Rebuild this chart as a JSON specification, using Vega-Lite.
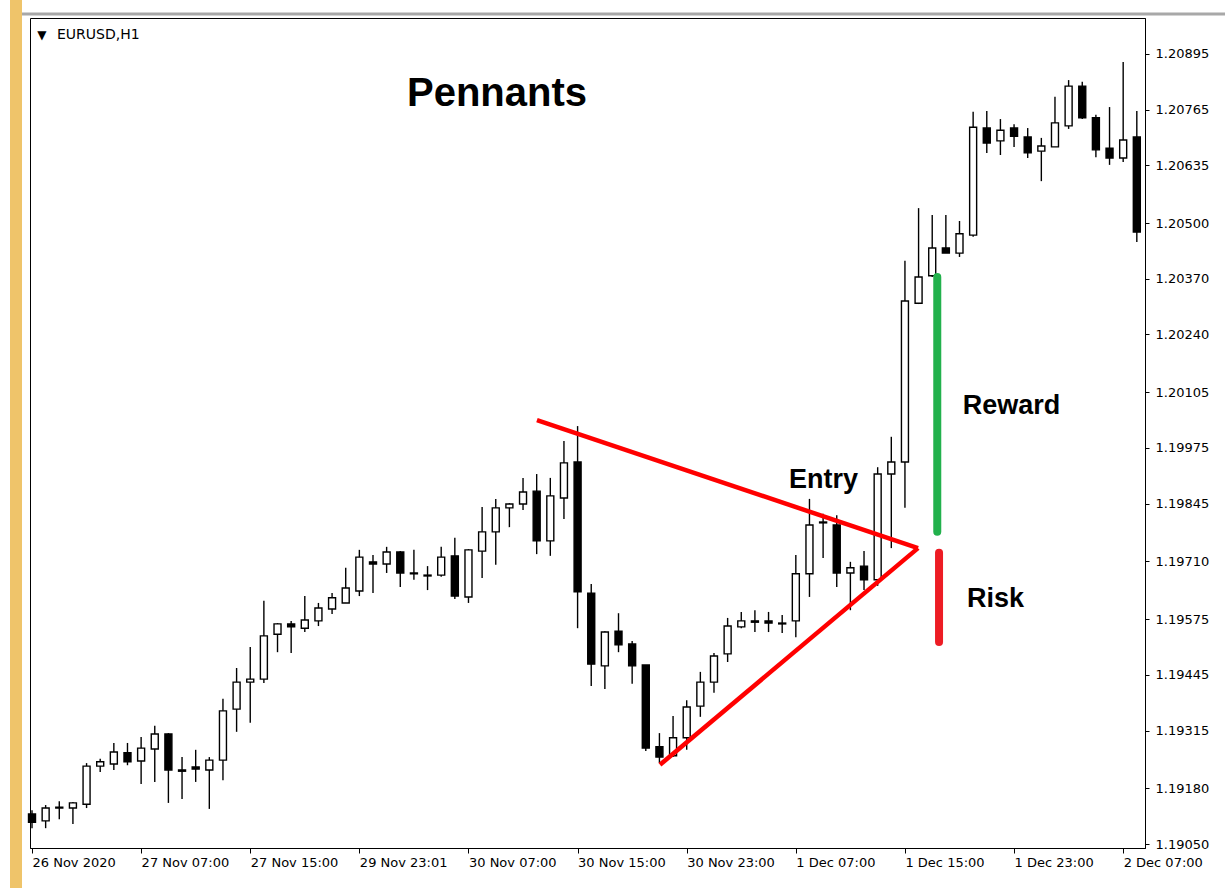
{
  "$schema": "https://vega.github.io/schema/vega-lite/v6.json",
  "width": 1115,
  "height": 830,
  "autosize": {"type": "none"},
  "padding": {"left": 30, "top": 18, "right": 80, "bottom": 40},
  "background": "white",
  "config": {"view": {"stroke": "black", "strokeWidth": 1}, "font": "DejaVu Sans"},
  "datasets": {
    "candles": [
      {"i":0,"o":1.19120,"c":1.19101,"h":1.19129,"l":1.19087},
      {"i":1,"o":1.19104,"c":1.19134,"h":1.19141,"l":1.19087},
      {"i":2,"o":1.19134,"c":1.19136,"h":1.19150,"l":1.19108},
      {"i":3,"o":1.19134,"c":1.19146,"h":1.19148,"l":1.19097},
      {"i":4,"o":1.19143,"c":1.19232,"h":1.19239,"l":1.19134},
      {"i":5,"o":1.19232,"c":1.19242,"h":1.19249,"l":1.19218},
      {"i":6,"o":1.19237,"c":1.19265,"h":1.19286,"l":1.19223},
      {"i":7,"o":1.19263,"c":1.19242,"h":1.19286,"l":1.19234},
      {"i":8,"o":1.19244,"c":1.19274,"h":1.19300,"l":1.19190},
      {"i":9,"o":1.19272,"c":1.19307,"h":1.19326,"l":1.19195},
      {"i":10,"o":1.19307,"c":1.19223,"h":1.19309,"l":1.19146},
      {"i":11,"o":1.19223,"c":1.19220,"h":1.19253,"l":1.19155},
      {"i":12,"o":1.19230,"c":1.19225,"h":1.19270,"l":1.19195},
      {"i":13,"o":1.19223,"c":1.19246,"h":1.19253,"l":1.19132},
      {"i":14,"o":1.19246,"c":1.19361,"h":1.19389,"l":1.19199},
      {"i":15,"o":1.19365,"c":1.19428,"h":1.19461,"l":1.19312},
      {"i":16,"o":1.19428,"c":1.19435,"h":1.19510,"l":1.19333},
      {"i":17,"o":1.19435,"c":1.19536,"h":1.19618,"l":1.19426},
      {"i":18,"o":1.19540,"c":1.19564,"h":1.19566,"l":1.19498},
      {"i":19,"o":1.19564,"c":1.19557,"h":1.19571,"l":1.19496},
      {"i":20,"o":1.19554,"c":1.19573,"h":1.19629,"l":1.19545},
      {"i":21,"o":1.19571,"c":1.19601,"h":1.19613,"l":1.19559},
      {"i":22,"o":1.19599,"c":1.19625,"h":1.19636,"l":1.19587},
      {"i":23,"o":1.19613,"c":1.19648,"h":1.19695,"l":1.19613},
      {"i":24,"o":1.19641,"c":1.19720,"h":1.19737,"l":1.19629},
      {"i":25,"o":1.19709,"c":1.19704,"h":1.19725,"l":1.19636},
      {"i":26,"o":1.19704,"c":1.19732,"h":1.19744,"l":1.19683},
      {"i":27,"o":1.19732,"c":1.19683,"h":1.19734,"l":1.19650},
      {"i":28,"o":1.19683,"c":1.19681,"h":1.19737,"l":1.19667},
      {"i":29,"o":1.19678,"c":1.19676,"h":1.19699,"l":1.19643},
      {"i":30,"o":1.19678,"c":1.19720,"h":1.19744,"l":1.19674},
      {"i":31,"o":1.19723,"c":1.19629,"h":1.19765,"l":1.19622},
      {"i":32,"o":1.19627,"c":1.19737,"h":1.19739,"l":1.19613},
      {"i":33,"o":1.19734,"c":1.19779,"h":1.19837,"l":1.19671},
      {"i":34,"o":1.19779,"c":1.19835,"h":1.19856,"l":1.19702},
      {"i":35,"o":1.19835,"c":1.19844,"h":1.19846,"l":1.19790},
      {"i":36,"o":1.19844,"c":1.19872,"h":1.19905,"l":1.19830},
      {"i":37,"o":1.19874,"c":1.19758,"h":1.19914,"l":1.19727},
      {"i":38,"o":1.19758,"c":1.19863,"h":1.19905,"l":1.19723},
      {"i":39,"o":1.19858,"c":1.19940,"h":1.19991,"l":1.19809},
      {"i":40,"o":1.19942,"c":1.19639,"h":1.20026,"l":1.19554},
      {"i":41,"o":1.19636,"c":1.19470,"h":1.19657,"l":1.19419},
      {"i":42,"o":1.19466,"c":1.19545,"h":1.19547,"l":1.19412},
      {"i":43,"o":1.19547,"c":1.19515,"h":1.19589,"l":1.19498},
      {"i":44,"o":1.19517,"c":1.19466,"h":1.19524,"l":1.19424},
      {"i":45,"o":1.19468,"c":1.19274,"h":1.19468,"l":1.19267},
      {"i":46,"o":1.19277,"c":1.19253,"h":1.19309,"l":1.19239},
      {"i":47,"o":1.19256,"c":1.19298,"h":1.19349,"l":1.19253},
      {"i":48,"o":1.19298,"c":1.19370,"h":1.19386,"l":1.19270},
      {"i":49,"o":1.19372,"c":1.19428,"h":1.19452,"l":1.19347},
      {"i":50,"o":1.19428,"c":1.19489,"h":1.19496,"l":1.19403},
      {"i":51,"o":1.19494,"c":1.19559,"h":1.19578,"l":1.19475},
      {"i":52,"o":1.19557,"c":1.19571,"h":1.19592,"l":1.19554},
      {"i":53,"o":1.19571,"c":1.19568,"h":1.19596,"l":1.19545},
      {"i":54,"o":1.19571,"c":1.19566,"h":1.19592,"l":1.19545},
      {"i":55,"o":1.19566,"c":1.19564,"h":1.19585,"l":1.19543},
      {"i":56,"o":1.19571,"c":1.19681,"h":1.19725,"l":1.19533},
      {"i":57,"o":1.19681,"c":1.19795,"h":1.19856,"l":1.19627},
      {"i":58,"o":1.19800,"c":1.19802,"h":1.19821,"l":1.19718},
      {"i":59,"o":1.19795,"c":1.19683,"h":1.19818,"l":1.19650},
      {"i":60,"o":1.19683,"c":1.19695,"h":1.19709,"l":1.19596},
      {"i":61,"o":1.19699,"c":1.19667,"h":1.19734,"l":1.19643},
      {"i":62,"o":1.19667,"c":1.19914,"h":1.19930,"l":1.19653},
      {"i":63,"o":1.19914,"c":1.19942,"h":1.20001,"l":1.19741},
      {"i":64,"o":1.19942,"c":1.20318,"h":1.20412,"l":1.19835},
      {"i":65,"o":1.20313,"c":1.20374,"h":1.20535,"l":1.20311},
      {"i":66,"o":1.20377,"c":1.20442,"h":1.20519,"l":1.20374},
      {"i":67,"o":1.20442,"c":1.20430,"h":1.20519,"l":1.20430},
      {"i":68,"o":1.20430,"c":1.20475,"h":1.20505,"l":1.20421},
      {"i":69,"o":1.20472,"c":1.20724,"h":1.20760,"l":1.20468},
      {"i":70,"o":1.20722,"c":1.20687,"h":1.20762,"l":1.20664},
      {"i":71,"o":1.20692,"c":1.20717,"h":1.20743,"l":1.20659},
      {"i":72,"o":1.20722,"c":1.20703,"h":1.20731,"l":1.20678},
      {"i":73,"o":1.20701,"c":1.20664,"h":1.20722,"l":1.20652},
      {"i":74,"o":1.20668,"c":1.20680,"h":1.20699,"l":1.20598},
      {"i":75,"o":1.20678,"c":1.20734,"h":1.20795,"l":1.20678},
      {"i":76,"o":1.20727,"c":1.20820,"h":1.20834,"l":1.20720},
      {"i":77,"o":1.20820,"c":1.20746,"h":1.20830,"l":1.20743},
      {"i":78,"o":1.20746,"c":1.20671,"h":1.20753,"l":1.20654},
      {"i":79,"o":1.20675,"c":1.20652,"h":1.20771,"l":1.20636},
      {"i":80,"o":1.20652,"c":1.20694,"h":1.20876,"l":1.20643},
      {"i":81,"o":1.20701,"c":1.20479,"h":1.20762,"l":1.20456}
    ]
  },
  "layer": [
    {
      "data": {"name": "candles"},
      "mark": {"type": "rule", "color": "black", "strokeWidth": 1.4},
      "encoding": {
        "x": {
          "field": "i", "type": "quantitative",
          "scale": {"domain": [-0.147, 81.6], "nice": false, "zero": false, "padding": 0},
          "axis": {
            "values": [0, 8, 16, 24, 32, 40, 48, 56, 64, 72, 80],
            "labelExpr": "['26 Nov 2020','27 Nov 07:00','27 Nov 15:00','29 Nov 23:01','30 Nov 07:00','30 Nov 15:00','30 Nov 23:00','1 Dec 07:00','1 Dec 15:00','1 Dec 23:00','2 Dec 07:00'][round(datum.value/8)]",
            "labelAlign": "left", "labelBaseline": "top",
            "labelFont": "DejaVu Sans", "labelFontSize": 13, "labelColor": "black",
            "labelPadding": 3, "labelOverlap": false, "labelFlush": false, "labelBound": false,
            "tickColor": "black", "tickSize": 5, "tickWidth": 1,
            "domainColor": "black", "domainWidth": 1,
            "grid": false, "title": null
          }
        },
        "y": {
          "field": "l", "type": "quantitative",
          "scale": {"domain": [1.190407, 1.20979], "nice": false, "zero": false},
          "axis": {
            "orient": "right",
            "values": [1.1905, 1.1918, 1.19315, 1.19445, 1.19575, 1.1971, 1.19845, 1.19975, 1.20105, 1.2024, 1.2037, 1.205, 1.20635, 1.20765, 1.20895],
            "format": ".5f",
            "labelFont": "DejaVu Sans", "labelFontSize": 13, "labelColor": "black",
            "labelPadding": 6, "labelOverlap": false, "labelFlush": false, "labelBound": false,
            "tickColor": "black", "tickSize": 4, "tickWidth": 1,
            "domainColor": "black", "domainWidth": 1,
            "grid": false, "title": null
          }
        },
        "y2": {"field": "h"}
      }
    },
    {
      "data": {"name": "candles"},
      "mark": {"type": "bar", "size": 7, "stroke": "black", "strokeWidth": 1.4},
      "encoding": {
        "x": {"field": "i", "type": "quantitative"},
        "y": {"field": "o", "type": "quantitative"},
        "y2": {"field": "c"},
        "fill": {"condition": {"test": "datum.c >= datum.o", "value": "white"}, "value": "black"}
      }
    },
    {
      "data": {"values": [{"i1": -1.613, "i2": -0.733, "p1": 1.210211, "p2": 1.189472}]},
      "mark": {"type": "rect", "color": "#efc46a", "clip": false},
      "encoding": {
        "x": {"field": "i1", "type": "quantitative"},
        "x2": {"field": "i2"},
        "y": {"field": "p1", "type": "quantitative"},
        "y2": {"field": "p2"}
      }
    },
    {
      "data": {"values": [{"i1": -0.733, "i2": 87.5, "p": 1.209884}]},
      "mark": {"type": "rule", "color": "#a8a8a8", "strokeWidth": 3, "clip": false},
      "encoding": {
        "x": {"field": "i1", "type": "quantitative"},
        "x2": {"field": "i2"},
        "y": {"field": "p", "type": "quantitative"}
      }
    },
    {
      "data": {"values": [
        {"seg": "upper", "i": 37.02, "p": 1.20040},
        {"seg": "upper", "i": 64.96, "p": 1.19741},
        {"seg": "lower", "i": 46.04, "p": 1.19235},
        {"seg": "lower", "i": 64.96, "p": 1.19741}
      ]},
      "mark": {"type": "line", "color": "#ff0000", "strokeWidth": 4.5},
      "encoding": {
        "x": {"field": "i", "type": "quantitative"},
        "y": {"field": "p", "type": "quantitative"},
        "detail": {"field": "seg"}
      }
    },
    {
      "data": {"values": [{"i": 66.37, "p1": 1.20374, "p2": 1.19779}]},
      "mark": {"type": "rule", "color": "#22b14c", "strokeWidth": 8, "strokeCap": "round"},
      "encoding": {
        "x": {"field": "i", "type": "quantitative"},
        "y": {"field": "p1", "type": "quantitative"},
        "y2": {"field": "p2"}
      }
    },
    {
      "data": {"values": [{"i": 66.5, "p1": 1.19730, "p2": 1.19522}]},
      "mark": {"type": "rule", "color": "#ed1c24", "strokeWidth": 8, "strokeCap": "round"},
      "encoding": {
        "x": {"field": "i", "type": "quantitative"},
        "y": {"field": "p1", "type": "quantitative"},
        "y2": {"field": "p2"}
      }
    },
    {
      "data": {"values": [{"i": 34.09, "p": 1.207735, "t": "Pennants"}]},
      "mark": {"type": "text", "font": "Liberation Sans", "fontWeight": "bold", "fontSize": 40, "align": "center", "baseline": "alphabetic", "color": "black"},
      "encoding": {
        "x": {"field": "i", "type": "quantitative"},
        "y": {"field": "p", "type": "quantitative"},
        "text": {"field": "t"}
      }
    },
    {
      "data": {"values": [
        {"i": 58.03, "p": 1.198814, "t": "Entry"},
        {"i": 71.81, "p": 1.200542, "t": "Reward"},
        {"i": 70.64, "p": 1.196035, "t": "Risk"}
      ]},
      "mark": {"type": "text", "font": "Liberation Sans", "fontWeight": "bold", "fontSize": 27, "align": "center", "baseline": "alphabetic", "color": "black"},
      "encoding": {
        "x": {"field": "i", "type": "quantitative"},
        "y": {"field": "p", "type": "quantitative"},
        "text": {"field": "t"}
      }
    },
    {
      "data": {"values": [{"i": 1.83, "p": 1.20929, "t": "EURUSD,H1"}]},
      "mark": {"type": "text", "font": "DejaVu Sans", "fontSize": 14, "align": "left", "baseline": "alphabetic", "color": "black"},
      "encoding": {
        "x": {"field": "i", "type": "quantitative"},
        "y": {"field": "p", "type": "quantitative"},
        "text": {"field": "t"}
      }
    },
    {
      "data": {"values": [{"i": 0.73, "p": 1.20940, "t": "▼"}]},
      "mark": {"type": "text", "font": "DejaVu Sans", "fontSize": 12, "align": "center", "baseline": "middle", "color": "black"},
      "encoding": {
        "x": {"field": "i", "type": "quantitative"},
        "y": {"field": "p", "type": "quantitative"},
        "text": {"field": "t"}
      }
    }
  ]
}
